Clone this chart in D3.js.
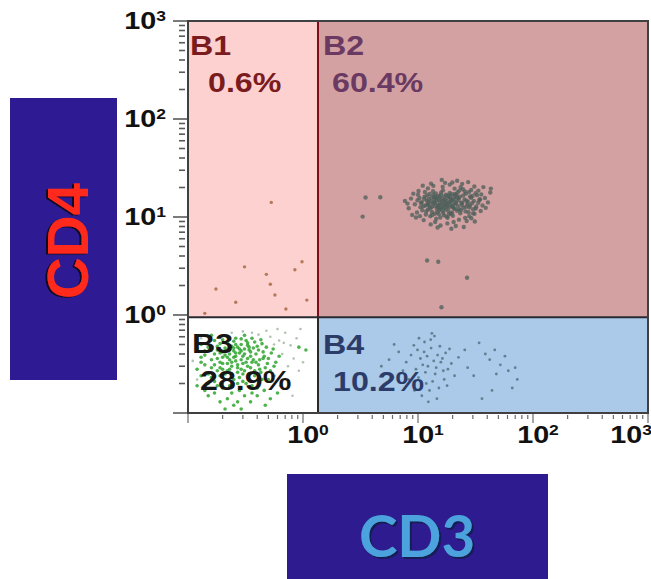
<!DOCTYPE html>
<html><head><meta charset="utf-8">
<script src="https://cdn.jsdelivr.net/npm/d3@7"></script>
<style>body{margin:0;background:#fff}svg{display:block}</style>
</head><body>
<svg id="chart" width="651" height="579"></svg>
<script>
// ---------- data ----------
const quadrantNames = ["B1", "B2", "B3", "B4"];
const quadrantPercents = ["0.6%", "60.4%", "28.9%", "10.2%"];
const axisTickExponents = ["0", "1", "2", "3"];
const axisTitles = ["CD3", "CD4"];
const gateCD3 = 1.35;   // vertical gate (x)
const gateCD4 = 0.95;   // horizontal gate (y)
const axisMin = 0.1, axisMax = 1000;

// events [CD3, CD4]
const b1Events = [[0.53,14.1],[0.48,2.6],[0.52,2.06],[0.57,1.6],[1.08,1.42],[0.71,1.15],[0.26,1.35],[0.31,3.1],[0.175,1.84],[0.85,2.9],[0.98,3.5],[0.14,1.04]];

const b2Events = [
[12.1,13.4],[15.3,11.8],[18.7,14.2],[11.4,16.1],[20.5,12.3],[14.2,15.7],[16.8,10.4],[13.1,12.6],[22.4,14.8],[10.6,13.9],
[17.5,16.9],[19.8,11.1],[12.8,10.2],[24.1,13.2],[15.9,17.8],[11.9,14.7],[21.7,15.9],[14.6,12.1],[18.1,9.8],[13.5,18.3],
[26.2,12.7],[16.2,13.6],[10.9,11.7],[20.9,17.2],[15.1,14.9],[23.3,10.9],[12.4,15.2],[17.9,12.8],[14.0,10.8],[19.2,15.4],
[11.1,12.9],[25.4,15.1],[16.5,18.7],[13.8,14.1],[21.2,13.7],[18.4,11.5],[12.6,17.2],[15.6,9.9],[27.1,14.3],[10.3,15.6],
[19.6,13.0],[14.9,16.4],[22.8,12.0],[13.2,11.3],[17.1,15.0],[11.7,10.6],[24.7,16.6],[16.0,12.4],[20.1,10.3],[15.0,13.3],
[12.9,14.4],[18.9,17.6],[14.4,9.6],[23.8,13.9],[10.8,14.2],[17.3,13.9],[21.9,11.6],[13.6,16.8],[16.6,11.0],[19.4,14.6],
[11.6,13.1],[25.9,11.4],[15.4,15.9],[12.2,11.9],[20.7,16.3],[17.7,10.1],[14.1,13.8],[22.1,17.9],[13.0,15.8],[18.6,12.6],
[16.3,14.5],[21.4,14.1],[13.9,12.9],[19.0,16.0],[15.7,12.2],[24.3,14.0],[12.0,16.6],[17.8,13.5],[14.7,11.2],[20.3,13.4],
[11.3,15.3],[18.2,15.8],[15.2,10.7],[22.6,15.5],[13.4,13.7],[16.9,16.2],[19.9,12.7],[12.7,12.3],[26.8,13.5],[14.5,14.8],
[17.4,11.9],[21.0,12.1],[15.8,16.8],[13.3,10.5],[23.1,16.1],[18.8,13.8],[11.8,11.4],[16.1,15.3],[20.0,14.9],[14.3,17.4],
[19.3,10.8],[12.5,13.0],[17.0,12.5],[22.2,13.0],[15.5,14.0],[13.7,15.0],[18.3,16.6],[24.9,12.4],[10.5,12.6],[16.7,13.1],
[20.6,15.1],[14.8,12.7],[12.3,14.0],[19.7,17.1],[17.6,14.7],[15.2,13.0],[21.6,16.8],[13.9,16.0],[18.5,10.6],[16.4,11.6],
[28.3,13.1],[30.6,14.6],[27.5,11.2],[29.8,16.4],[32.1,12.8],[26.1,17.3],[31.0,10.8],[28.9,15.7],[33.4,14.0],[25.7,9.8],
[22.9,18.6],[27.8,18.0],[30.2,12.0],[24.6,19.2],[29.1,9.7],[34.6,15.2],[26.4,14.7],[23.6,11.7],[31.7,17.5],[28.0,12.5],
[9.4,13.5],[8.7,15.4],[9.8,11.1],[29.5,13.8],[31.8,12.2],[28.4,16.2],[34.2,14.9],[30.1,10.9],[9.1,17.3],[12.2,19.6],
[16.4,20.3],[20.8,19.5],[25.6,18.2],[14.1,8.9],[18.0,8.6],[22.7,9.4],[11.2,9.3],[27.9,10.2],[32.6,16.7],[36.4,13.1],
[8.3,12.3],[10.1,18.4],[13.6,20.8],[18.9,21.4],[23.5,20.1],[29.0,18.9],[15.7,8.2],[20.4,8.9],[26.5,9.1],[38.2,15.6],
[35.1,11.5],[9.6,9.9],[12.9,8.4],[24.2,21.8],[30.9,20.5],[11.0,20.9],[17.2,22.3],[33.5,18.6],[19.5,7.6],[14.8,7.8],
[40.6,14.1],[27.3,22.7],[21.9,23.4],[7.7,14.6],[8.9,10.5],[31.2,9.0],[16.1,23.9],[25.0,7.9],[42.5,17.8],[37.0,20.2],
[10.0,16.9],[11.5,18.0],[8.1,13.7],[9.9,14.8],[13.0,21.9],[19.9,22.5],[35.5,17.0],[38.8,12.4],[21.3,8.1],[10.4,10.2],
[3.5,15.8],[4.7,15.9],[3.3,10.1],[12.0,3.6],[15.0,3.5],[26.7,2.4],[16.0,1.2],[43.0,19.5]
];

const b3Events = [
[0.24,0.33],[0.19,0.41],[0.31,0.27],[0.22,0.52],[0.35,0.38],[0.16,0.29],[0.28,0.45],[0.21,0.22],[0.41,0.31],[0.26,0.58],
[0.18,0.36],[0.33,0.49],[0.23,0.19],[0.45,0.42],[0.15,0.47],[0.29,0.35],[0.20,0.28],[0.38,0.24],[0.25,0.43],[0.17,0.21],
[0.32,0.55],[0.27,0.31],[0.14,0.39],[0.36,0.33],[0.22,0.37],[0.43,0.26],[0.19,0.51],[0.30,0.21],[0.24,0.25],[0.50,0.36],
[0.13,0.33],[0.34,0.44],[0.21,0.46],[0.28,0.17],[0.39,0.40],[0.17,0.55],[0.26,0.38],[0.47,0.29],[0.20,0.32],[0.31,0.62],
[0.23,0.28],[0.36,0.19],[0.15,0.25],[0.29,0.50],[0.42,0.35],[0.18,0.44],[0.25,0.22],[0.33,0.30],[0.22,0.60],[0.53,0.41],
[0.16,0.35],[0.27,0.26],[0.38,0.53],[0.20,0.18],[0.31,0.40],[0.14,0.43],[0.44,0.22],[0.24,0.48],[0.19,0.24],[0.35,0.29],
[0.26,0.34],[0.48,0.47],[0.12,0.28],[0.29,0.57],[0.21,0.39],[0.40,0.18],[0.17,0.31],[0.33,0.36],[0.23,0.44],[0.58,0.33],
[0.28,0.23],[0.15,0.52],[0.37,0.46],[0.22,0.27],[0.30,0.32],[0.46,0.38],[0.18,0.19],[0.25,0.54],[0.34,0.25],[0.20,0.42],
[0.27,0.47],[0.13,0.37],[0.41,0.44],[0.24,0.30],[0.32,0.20],[0.19,0.33],[0.52,0.27],[0.26,0.41],[0.16,0.23],[0.36,0.58],
[0.23,0.35],[0.29,0.28],[0.44,0.51],[0.18,0.48],[0.31,0.45],[0.21,0.25],[0.39,0.33],[0.14,0.31],[0.27,0.20],[0.55,0.45],
[0.25,0.37],[0.35,0.42],[0.20,0.56],[0.30,0.38],[0.17,0.40],[0.42,0.28],[0.22,0.32],[0.33,0.52],[0.28,0.41],[0.15,0.20],
[0.24,0.16],[0.37,0.35],[0.19,0.29],[0.49,0.32],[0.26,0.50],[0.12,0.45],[0.32,0.33],[0.21,0.43],[0.40,0.48],[0.27,0.29],
[0.18,0.27],[0.34,0.47],[0.23,0.40],[0.45,0.36],[0.16,0.44],[0.30,0.25],[0.25,0.46],[0.38,0.27],[0.20,0.37],[0.29,0.43],
[0.22,0.14],[0.31,0.15],[0.17,0.16],[0.27,0.13],[0.40,0.15],[0.35,0.13],[0.19,0.13],[0.46,0.17],[0.25,0.12],[0.14,0.17],
[0.52,0.14],[0.29,0.11],[0.60,0.16],[0.21,0.11],[0.36,0.16],[1.06,0.44],[0.92,0.47],
[0.13,0.24],[0.15,0.15],[0.13,0.50],[0.16,0.62],[0.43,0.56],[0.50,0.22],[0.56,0.30],[0.62,0.38],[0.47,0.12],[0.12,0.19]
];
const b3SparseEvents = [
[0.30,0.68],[0.41,0.63],[0.52,0.60],[0.62,0.55],[0.70,0.66],[0.78,0.49],[0.88,0.58],[0.95,0.72],[0.66,0.40],
[0.74,0.30],[0.83,0.36],[0.71,0.22],[0.92,0.27],[0.63,0.19],[0.81,0.15],[0.57,0.24],[0.68,0.52],[1.00,0.33],[0.60,0.72],
[0.48,0.69],[0.36,0.66],[0.24,0.66],[0.56,0.50],[0.13,0.58],[0.12,0.22],[0.11,0.34]
];

const b4Events = [
[12.2,0.30],[10.5,0.36],[14.1,0.25],[11.3,0.42],[15.8,0.33],[9.6,0.28],[13.0,0.46],[16.9,0.22],[11.8,0.20],[8.7,0.39],
[14.8,0.39],[12.6,0.17],[18.2,0.28],[10.1,0.23],[13.7,0.34],[9.2,0.49],[15.2,0.18],[11.0,0.31],[17.4,0.41],[12.9,0.56],
[7.9,0.33],[14.4,0.29],[10.8,0.15],[16.3,0.36],[13.4,0.21],[19.5,0.32],[11.6,0.26],[9.9,0.44],[15.5,0.48],[12.0,0.38],
[6.8,0.42],[8.3,0.22],[20.8,0.24],[13.9,0.61],[11.4,0.53],[17.9,0.19],[7.4,0.27],[10.2,0.58],[14.6,0.14],[16.6,0.27],
[5.6,0.35],[6.2,0.50],[12.3,0.13],[9.3,0.17],[22.5,0.37],[18.8,0.45],[13.2,0.65],[4.8,0.30],
[34.0,0.52],[38.5,0.40],[42.0,0.35],[46.5,0.44],[52.0,0.31],[57.0,0.38],[48.0,0.25],[61.0,0.27],[70.0,0.29],[73.0,0.22],
[66.0,0.18],[30.5,0.24],[27.0,0.29],[44.0,0.17],[36.0,0.14],[25.5,0.44]
];

// ---------- drawing ----------
const svg = d3.select("#chart");
const L = 188, R = 648, T = 21, B = 413;
const x = d3.scaleLog().domain([axisMin, axisMax]).range([L, R]);
const y = d3.scaleLog().domain([axisMin, axisMax]).range([B, T]);

const defs = svg.append("defs");
const f4 = defs.append("filter").attr("id", "sh4").attr("x", "-20%").attr("y", "-20%").attr("width", "140%").attr("height", "140%");
f4.append("feDropShadow").attr("dx", -2).attr("dy", 1).attr("stdDeviation", 0.6).attr("flood-color", "#0d0820").attr("flood-opacity", 1);
const f3 = defs.append("filter").attr("id", "sh3").attr("x", "-20%").attr("y", "-20%").attr("width", "140%").attr("height", "140%");
f3.append("feDropShadow").attr("dx", 2).attr("dy", 2).attr("stdDeviation", 0.6).attr("flood-color", "#141d55").attr("flood-opacity", 1);

// axis title boxes
svg.append("rect").attr("x", 10).attr("y", 98).attr("width", 107).attr("height", 282).attr("fill", "#2e1b93");
svg.append("rect").attr("x", 287).attr("y", 474).attr("width", 261).attr("height", 110).attr("fill", "#2e1b8f");

svg.append("g").attr("filter", "url(#sh4)")
  .append("g").attr("transform", "translate(67,241) rotate(-90)")
  .append("text").attr("x", 0).attr("y", 21).attr("text-anchor", "middle")
  .attr("font-family", "Liberation Sans, Arial, sans-serif").attr("font-weight", "bold").attr("font-size", 58)
  .attr("fill", "#ff2a1a").text(axisTitles[1]);

svg.append("text").attr("x", 417).attr("y", 557).attr("text-anchor", "middle").attr("filter", "url(#sh3)")
  .attr("font-family", "Lato, sans-serif").attr("font-weight", "bold").attr("font-size", 58)
  .attr("fill", "#4ba2dc").text(axisTitles[0]);

// quadrants
const quadRects = [
  {name: quadrantNames[0], pct: quadrantPercents[0], x0: axisMin, x1: gateCD3, y0: gateCD4, y1: axisMax, fill: "#fdd1d0", color: "#7a1b1e"},
  {name: quadrantNames[1], pct: quadrantPercents[1], x0: gateCD3, x1: axisMax, y0: gateCD4, y1: axisMax, fill: "#d4a1a2", color: "#6a3a62"},
  {name: quadrantNames[2], pct: quadrantPercents[2], x0: axisMin, x1: gateCD3, y0: axisMin, y1: gateCD4, fill: "#ffffff", color: "#161616"},
  {name: quadrantNames[3], pct: quadrantPercents[3], x0: gateCD3, x1: axisMax, y0: axisMin, y1: gateCD4, fill: "#abc9e8", color: "#2b3c68"}
];
svg.selectAll("rect.quad").data(quadRects).join("rect").attr("class", "quad")
  .attr("x", d => x(d.x0)).attr("y", d => y(d.y1))
  .attr("width", d => x(d.x1) - x(d.x0)).attr("height", d => y(d.y0) - y(d.y1))
  .attr("fill", d => d.fill);

// events
function dots(data, color, r, op) {
  svg.append("g").selectAll("circle").data(data).join("circle")
    .attr("cx", d => x(d[0])).attr("cy", d => y(d[1])).attr("r", r)
    .attr("fill", color).attr("fill-opacity", op);
}
dots(b3SparseEvents, "#9fb39f", 1.3, 0.8);
dots(b3Events, "#22a022", 1.8, 0.8);
dots(b1Events, "#a86a44", 1.7, 0.85);
dots(b2Events, "#4c5f5a", 2.2, 0.75);
dots(b4Events, "#4d7684", 1.4, 0.85);

// gate lines
svg.append("line").attr("x1", x(gateCD3)).attr("x2", x(gateCD3)).attr("y1", T).attr("y2", y(gateCD4))
  .attr("stroke", "#7c0e1c").attr("stroke-width", 2);
svg.append("line").attr("x1", x(gateCD3)).attr("x2", x(gateCD3)).attr("y1", y(gateCD4)).attr("y2", B)
  .attr("stroke", "#2a2a2a").attr("stroke-width", 2);
svg.append("line").attr("x1", L).attr("x2", R).attr("y1", y(gateCD4)).attr("y2", y(gateCD4))
  .attr("stroke", "#2a2a30").attr("stroke-width", 2);

// frame
svg.append("rect").attr("x", L).attr("y", T).attr("width", R - L).attr("height", B - T)
  .attr("fill", "none").attr("stroke", "#404040").attr("stroke-width", 2);

// quadrant labels
const labelFont = "Liberation Sans, Arial, sans-serif";
const labelOffsets = [
  {nx: 2, ny: 34, px: 20, py: 71},
  {nx: 5, ny: 34, px: 14, py: 71},
  {nx: 4, ny: 36, px: 12, py: 73},
  {nx: 5, ny: 37, px: 15, py: 74}
];
quadRects.forEach((q, i) => {
  const ox = x(q.x0), oy = y(q.y1), o = labelOffsets[i];
  [[q.name, o.nx, o.ny], [q.pct, o.px, o.py]].forEach(([t, dx, dy]) => {
    svg.append("text").attr("transform", `translate(${ox + dx},${oy + dy}) scale(1.15,1)`)
      .attr("font-family", labelFont).attr("font-weight", "bold").attr("font-size", 28)
      .attr("fill", q.color).text(t);
  });
});

// ticks
const tickVals = x.ticks();
const isMajor = v => Math.abs(Math.log10(v) - Math.round(Math.log10(v))) < 1e-6;
svg.append("g").selectAll("line").data(tickVals).join("line")
  .attr("x1", d => isMajor(d) ? L - 15 : L - 9).attr("x2", d => isMajor(d) ? L - 1 : L - 3)
  .attr("y1", d => y(d)).attr("y2", d => y(d))
  .attr("stroke", "#5a5a5a").attr("stroke-width", 1.6);
svg.append("g").selectAll("line").data(tickVals).join("line")
  .attr("x1", d => x(d)).attr("x2", d => x(d))
  .attr("y1", d => isMajor(d) ? B + 1 : B + 2).attr("y2", d => isMajor(d) ? B + 10 : B + 6)
  .attr("stroke", "#6a6a6a").attr("stroke-width", 1.2);

const majors = axisTickExponents.map(e => Math.pow(10, +e));
function tickLabel(tx, ty, anchor, exp) {
  const t = svg.append("text").attr("transform", `translate(${tx},${ty}) scale(1.25,1)`)
    .attr("text-anchor", anchor).attr("font-family", labelFont).attr("font-weight", "bold")
    .attr("font-size", 23).attr("fill", "#111");
  t.append("tspan").text("10");
  t.append("tspan").attr("font-size", 14).attr("dy", -8).text(exp);
}
majors.forEach((v, i) => {
  tickLabel(166, y(v) + 8, "end", axisTickExponents[i]);
  if (i < majors.length - 1) tickLabel(x(v) + 5, 443, "middle", axisTickExponents[i]);
  else tickLabel(652, 443, "end", axisTickExponents[i]);
});
</script>
</body></html>
